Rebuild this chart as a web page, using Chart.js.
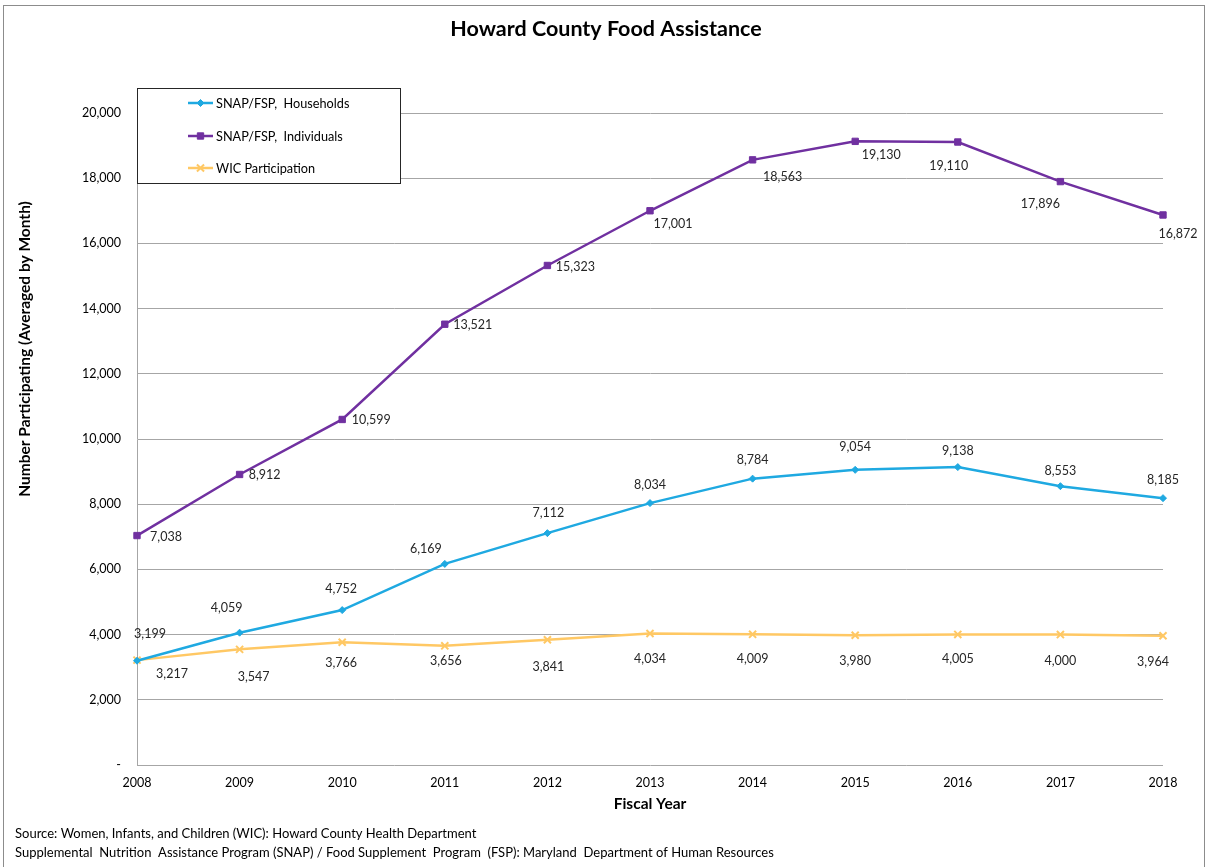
<!DOCTYPE html>
<html>
<head>
<meta charset="utf-8">
<title>Howard County Food Assistance</title>
<script src="https://cdn.jsdelivr.net/npm/chart.js@4/dist/chart.umd.min.js"></script>
<style>
  html, body { margin: 0; padding: 0; background: #ffffff; }
  #wrap { width: 1207px; height: 867px; position: relative; }
</style>
</head>
<body>
<div id="wrap"><canvas id="chart" width="1207" height="867"></canvas></div>
<script>
// Fiscal years on the x axis
const years = ['2008', '2009', '2010', '2011', '2012', '2013', '2014', '2015', '2016', '2017', '2018'];

// Monthly-average participation per fiscal year
const snapHouseholds = [3199, 4059, 4752, 6169, 7112, 8034, 8784, 9054, 9138, 8553, 8185];
const snapIndividuals = [7038, 8912, 10599, 13521, 15323, 17001, 18563, 19130, 19110, 17896, 16872];
const wicParticipation = [3217, 3547, 3766, 3656, 3841, 4034, 4009, 3980, 4005, 4000, 3964];

const seriesNames = ['SNAP/FSP,  Households', 'SNAP/FSP,  Individuals', 'WIC Participation'];
const yTickValues = [0, 2000, 4000, 6000, 8000, 10000, 12000, 14000, 16000, 18000, 20000];

const titleText = 'Howard County Food Assistance';
const yTitleText = 'Number Participating (Averaged by Month)';
const xTitleText = 'Fiscal Year';
const sourceLines = [
  'Source: Women, Infants, and Children (WIC): Howard County Health Department',
  'Supplemental  Nutrition  Assistance Program (SNAP) / Food Supplement  Program  (FSP): Maryland  Department of Human Resources'
];

// Value-label nudges (dx, dy in px) relative to each point, per series
const labelNudges = [
  [[13,-27],[-13,-25],[-1,-21],[-19,-15],[1,-20],[0,-18],[0,-19],[0,-23],[0,-16],[0,-15],[0,-18]],
  [[29,1],[25,0],[29,0],[28,1],[28,1],[23,13],[30,17],[26,14],[-9,24],[-20,22],[15,19]],
  [[35,14],[14,28],[-1,21],[1,15],[1,27],[0,25],[0,25],[0,26],[0,25],[0,26],[-10,26]]
];

const FONT = 'Lato, "Open Sans", "Liberation Sans", sans-serif';
const colors = ['#1FA9E1', '#7030A0', '#FFC864'];
const styles = ['rectRot', 'rect', 'crossRot'];
const radii = [3.5, 4.5, 5];

const fmt = v => v.toLocaleString('en-US');

// Frame, headings, axis titles, legend box and source notes
const decorations = {
  id: 'decorations',
  beforeDraw(chart) {
    const ctx = chart.ctx;
    ctx.save();
    ctx.fillStyle = '#ffffff';
    ctx.fillRect(0, 0, chart.width, chart.height);
    ctx.strokeStyle = '#8c8c8c';
    ctx.lineWidth = 1;
    ctx.strokeRect(3.5, 5.5, 1201, 870);
    ctx.restore();
  },
  afterDraw(chart) {
    const ctx = chart.ctx;
    const area = chart.chartArea;
    ctx.save();
    ctx.fillStyle = '#000000';
    ctx.textAlign = 'center';
    ctx.textBaseline = 'middle';
    ctx.font = 'bold 21.5px ' + FONT;
    ctx.fillText(titleText, 606, 29);

    ctx.font = 'bold 15.5px ' + FONT;
    ctx.fillText(xTitleText, (area.left + area.right) / 2, 804);
    ctx.save();
    ctx.translate(25, 349);
    ctx.rotate(-Math.PI / 2);
    ctx.fillText(yTitleText, 0, 0);
    ctx.restore();

    // source notes
    ctx.textAlign = 'left';
    ctx.font = '13px ' + FONT;
    ctx.fillStyle = '#000000';
    ctx.fillText(sourceLines[0], 15, 834);
    ctx.fillText(sourceLines[1], 15, 853);

    // legend box
    ctx.fillStyle = '#ffffff';
    ctx.fillRect(137, 88, 264, 96);
    ctx.strokeStyle = '#262626';
    ctx.lineWidth = 1;
    ctx.strokeRect(137.5, 88.5, 263, 95);
    const rows = [103, 136, 168];
    chart.data.datasets.forEach((ds, i) => {
      const y = rows[i];
      ctx.strokeStyle = ds.borderColor;
      ctx.lineWidth = 2.5;
      ctx.beginPath();
      ctx.moveTo(188, y);
      ctx.lineTo(213, y);
      ctx.stroke();
      ctx.fillStyle = ds.pointBackgroundColor;
      ctx.strokeStyle = ds.pointBorderColor;
      ctx.lineWidth = ds.pointBorderWidth;
      Chart.helpers.drawPoint(ctx, {
        pointStyle: ds.pointStyle, radius: ds.pointRadius, borderWidth: ds.pointBorderWidth, rotation: 0
      }, 200.5, y);
      ctx.fillStyle = '#000000';
      ctx.font = '12.7px ' + FONT;
      ctx.textAlign = 'left';
      ctx.fillText(ds.label, 216, y + 0.5);
    });
    ctx.restore();
  }
};

// Value labels beside each point, placed from the plotted data
const valueLabels = {
  id: 'valueLabels',
  afterDatasetsDraw(chart) {
    const ctx = chart.ctx;
    ctx.save();
    ctx.font = '12.5px ' + FONT;
    ctx.fillStyle = '#262626';
    ctx.textAlign = 'center';
    ctx.textBaseline = 'middle';
    chart.data.datasets.forEach((ds, i) => {
      const meta = chart.getDatasetMeta(i);
      meta.data.forEach((pt, j) => {
        const n = labelNudges[i][j];
        ctx.fillText(fmt(ds.data[j]), pt.x + n[0], pt.y + n[1]);
      });
    });
    ctx.restore();
  }
};

function series(label, data, i) {
  return {
    label: label,
    data: data,
    borderColor: colors[i],
    backgroundColor: colors[i],
    pointBackgroundColor: colors[i],
    pointBorderColor: colors[i],
    borderWidth: 2.5,
    pointStyle: styles[i],
    pointRadius: radii[i],
    pointHoverRadius: radii[i],
    pointBorderWidth: i === 2 ? 2 : 1,
    tension: 0,
    fill: false
  };
}

new Chart(document.getElementById('chart'), {
  type: 'line',
  data: {
    labels: years,
    datasets: [
      series(seriesNames[0], snapHouseholds, 0),
      series(seriesNames[1], snapIndividuals, 1),
      series(seriesNames[2], wicParticipation, 2)
    ]
  },
  options: {
    responsive: false,
    animation: false,
    events: [],
    layout: { padding: { top: 113, right: 44, left: 0, bottom: 0 } },
    plugins: {
      legend: { display: false },
      title: { display: false },
      tooltip: { enabled: false }
    },
    scales: {
      x: {
        type: 'category',
        offset: false,
        afterFit: s => { s.height = 102; },
        grid: { display: false, drawTicks: false },
        border: { display: false },
        ticks: {
          color: '#000000',
          font: { family: FONT, size: 12.5 },
          padding: 10,
          maxRotation: 0,
          autoSkip: false
        }
      },
      y: {
        min: 0,
        max: 20000,
        afterFit: s => { s.width = 137; },
        afterBuildTicks: s => { s.ticks = yTickValues.map(v => ({ value: v })); },
        grid: { color: '#a6a6a6', lineWidth: 1, drawTicks: false },
        border: { display: true, color: '#a6a6a6', width: 1 },
        ticks: {
          color: '#000000',
          font: { family: FONT, size: 12.5 },
          padding: 16,
          callback: v => (v === 0 ? '-' : fmt(v))
        }
      }
    }
  },
  plugins: [decorations, valueLabels]
});
</script>
</body>
</html>
